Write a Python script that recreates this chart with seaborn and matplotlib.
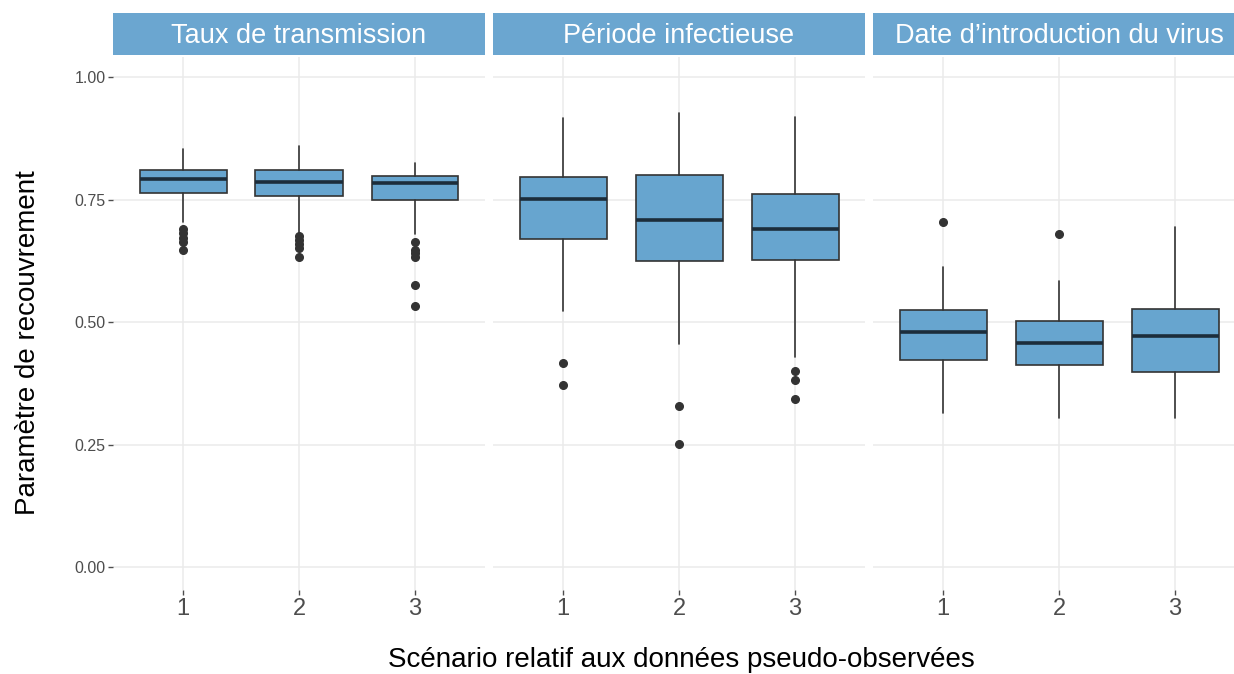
import matplotlib
matplotlib.use("Agg")
import matplotlib.pyplot as plt
import seaborn as sns

# Data (box stats per scenario)
scenarios = ["1", "2", "3"]
facets = ["Taux de transmission", "Période infectieuse", "Date d’introduction du virus"]

transmission_lo = [0.705, 0.681, 0.680]
transmission_q1 = [0.764, 0.757, 0.750]
transmission_med = [0.792, 0.786, 0.784]
transmission_q3 = [0.810, 0.810, 0.799]
transmission_hi = [0.854, 0.859, 0.825]
transmission_out = [[0.689, 0.681, 0.672, 0.663, 0.648],
                    [0.676, 0.667, 0.659, 0.652, 0.633],
                    [0.663, 0.648, 0.641, 0.633, 0.576, 0.533]]

infect_lo = [0.523, 0.455, 0.429]
infect_q1 = [0.669, 0.624, 0.626]
infect_med = [0.752, 0.709, 0.689]
infect_q3 = [0.796, 0.801, 0.761]
infect_hi = [0.917, 0.926, 0.919]
infect_out = [[0.417, 0.371], [0.329, 0.251], [0.401, 0.382, 0.342]]

intro_lo = [0.314, 0.305, 0.304]
intro_q1 = [0.422, 0.412, 0.397]
intro_med = [0.480, 0.458, 0.471]
intro_q3 = [0.524, 0.503, 0.526]
intro_hi = [0.613, 0.584, 0.694]
intro_out = [[0.705], [0.680], []]

yticks = [0.0, 0.25, 0.5, 0.75, 1.0]
ytick_labels = ["0.00", "0.25", "0.50", "0.75", "1.00"]

panels = [
    (transmission_lo, transmission_q1, transmission_med, transmission_q3, transmission_hi, transmission_out),
    (infect_lo, infect_q1, infect_med, infect_q3, infect_hi, infect_out),
    (intro_lo, intro_q1, intro_med, intro_q3, intro_hi, intro_out),
]

sns.set_theme(style="whitegrid")
plt.rcParams["font.family"] = ["Liberation Sans", "DejaVu Sans"]

BLUE = "#67A5CF"
STRIP = "#6BA6D0"
EDGE = "#333333"
GRID = "#EBEBEB"

W, H = 1234, 674
fig = plt.figure(figsize=(W / 100, H / 100), dpi=100)
fig.patch.set_facecolor("white")

lefts = [113.4, 493.4, 873.4]
pw = 371.2
top_px, bot_px = 57, 590

for i, (name, (lo, q1, med, q3, hi, out)) in enumerate(zip(facets, panels)):
    ax = fig.add_axes([lefts[i] / W, (H - bot_px) / H, pw / W, (bot_px - top_px) / H])
    stats = []
    for j in range(len(scenarios)):
        stats.append(dict(whislo=lo[j], q1=q1[j], med=med[j], q3=q3[j],
                          whishi=hi[j], fliers=out[j], label=scenarios[j]))
    ax.bxp(stats, positions=[1, 2, 3], widths=0.75, patch_artist=True,
           showcaps=False,
           boxprops=dict(facecolor=BLUE, edgecolor=EDGE, linewidth=1.2),
           medianprops=dict(color="#1c2d3b", linewidth=2.6),
           whiskerprops=dict(color=EDGE, linewidth=1.2),
           flierprops=dict(marker="o", markerfacecolor=EDGE, markeredgecolor=EDGE,
                           markersize=5.5))
    ax.set_xlim(0.4, 3.6)
    ax.set_ylim(-0.047, 1.041)
    ax.set_xticks([1, 2, 3])
    ax.set_xticklabels(scenarios, fontsize=17, color="#4D4D4D")
    ax.set_yticks(yticks)
    if i == 0:
        ax.set_yticklabels(ytick_labels, fontsize=11.5, color="#4D4D4D")
        ax.tick_params(axis="y", length=3.5, width=1, color="#4D4D4D", pad=2, left=True)
    else:
        ax.set_yticklabels([])
        ax.tick_params(axis="y", length=0)
    ax.tick_params(axis="x", length=3.5, width=1, color="#4D4D4D", pad=2, bottom=True)
    ax.set_facecolor("white")
    ax.grid(True, color=GRID, linewidth=1.1)
    ax.set_axisbelow(True)
    for s in ax.spines.values():
        s.set_visible(False)

    # facet strip
    sax = fig.add_axes([lefts[i] / W, (H - 55) / H, pw / W, 42.5 / H])
    sax.set_facecolor(STRIP)
    sax.set_xticks([])
    sax.set_yticks([])
    for s in sax.spines.values():
        s.set_visible(False)
    sax.text(0.5, 0.44, name, transform=sax.transAxes, ha="center", va="center",
             fontsize=19.5, color="white")

fig.text(28 / W, (H - 343) / H, "Paramètre de recouvrement", rotation=90,
         ha="center", va="center", fontsize=20, color="black")
fig.text(681 / W, 7 / H, "Scénario relatif aux données pseudo-observées",
         ha="center", va="baseline", fontsize=20, color="black")

fig.savefig("out.png", dpi=100, facecolor="white")
